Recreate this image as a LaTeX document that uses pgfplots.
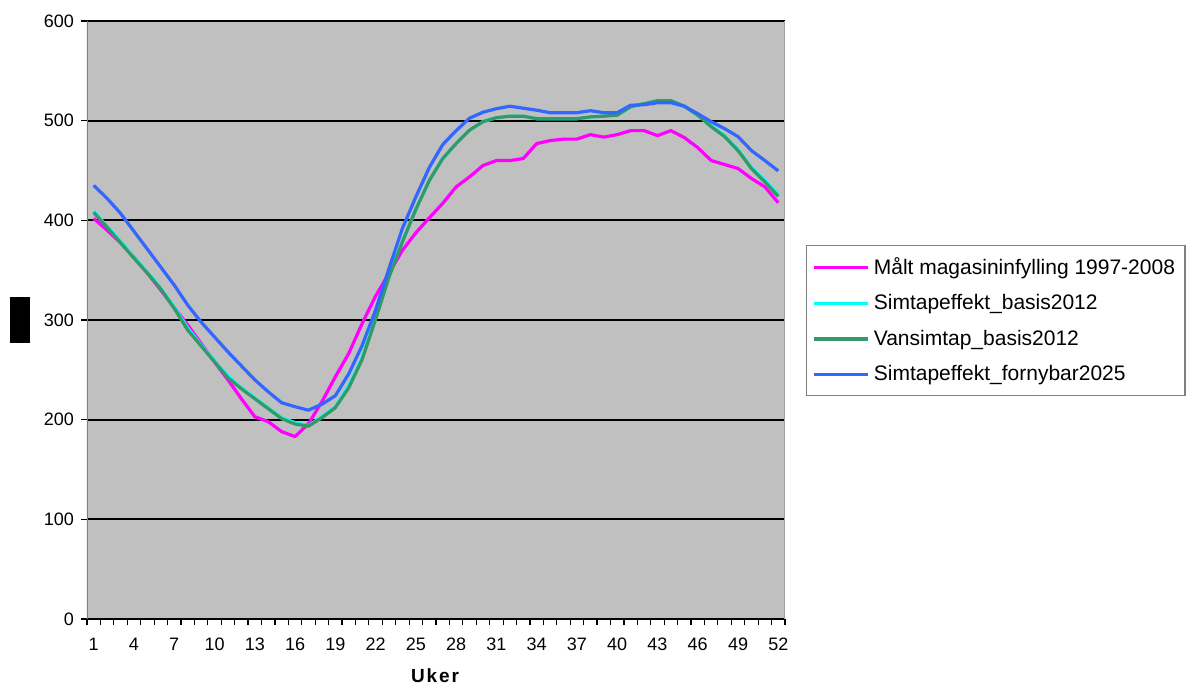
\documentclass[border=0pt]{standalone}
\usepackage{pgfplots}
\pgfplotsset{compat=1.18}
\usepackage{pgfplotstable}
\usepackage{fontspec}
\setmainfont{Liberation Sans}
\definecolor{cMag}{HTML}{FF00FF}
\definecolor{cCya}{HTML}{00FFFF}
\definecolor{cGre}{HTML}{339966}
\definecolor{cBlu}{HTML}{3366FF}
\definecolor{cBg}{HTML}{C0C0C0}
\definecolor{cAx}{HTML}{808080}
\definecolor{cAx2}{HTML}{A0A0A0}
\pgfplotstableread{
w mag cya gre blu
1 402 409 408 435
2 390 394 393 422
3 377.5 379 377.5 407
4 363 363 362 389
5 347 348 347 371
6 330 332 331 353
7 312.6 313 311.6 335
8 295 292 290 315
9 276.5 275 274 298
10 258 259 258 283
11 240 244 242 268
12 221 232 231 254
13 203 222 221 240
14 198 212 211 228
15 188 202 201 217
16 183 197 195.6 213
17 196 194 193.5 209.5
18 218 203 202 215.5
19 243 213 212 224
20 266.5 234 232 246
21 296.6 262 260.5 274.5
22 324 302 300.6 310
23 347 344 343 351.7
24 370 379 378.5 392
25 387.5 411 411 423.6
26 402.5 440 440 453
27 417 462 462 476
28 433.6 477 477 490
29 443.6 490.5 490.5 502.5
30 455 499 499 508.5
31 460 503 503 512
32 460 504.5 504.5 514.5
33 462 504.5 504.5 512.5
34 477 502 502 510.5
35 480 502 502 508
36 481.5 502 502 508
37 481.5 502 502 508
38 486 503.8 503.8 510
39 483.5 504.5 504.5 508
40 486 505.5 505.5 508
41 490 514 514 515.5
42 490 517 517 516
43 485 520 520 518
44 490 520 520 518
45 483 514.5 514.5 514.5
46 473 505.5 505.5 507
47 460 495 494 499
48 456 485 484 492
49 452 471 470 484
50 442 453 452 470
51 433.6 440 438.6 460
52 417.6 426 424 449.6
}\datatable
\begin{document}
\begin{tikzpicture}
\useasboundingbox (-43.5pt,-33pt) rectangle (550pt,309.5pt);
\begin{axis}[
  at={(0,0)}, anchor=south west,
  scale only axis, width=349pt, height=299pt,
  xmin=0.5, xmax=52.5, ymin=0, ymax=600,
  axis background/.style={fill=cBg},
  axis line style={draw=none},
  xtick pos=lower, ytick pos=left,
  ytick={0,100,...,600},
  xtick={0.5,1.5,...,52.5},
  xticklabels={1,,,4,,,7,,,10,,,13,,,16,,,19,,,22,,,25,,,28,,,31,,,34,,,37,,,40,,,43,,,46,,,49,,,52,},
  xticklabel style={xshift=3.356pt, yshift=-3pt, font=\fontsize{9}{10}\selectfont},
  yticklabel style={font=\fontsize{9}{10}\selectfont},
  /pgf/number format/assume math mode=true,
  tick align=outside, major tick length=3pt,
  tick style={black, line width=0.6pt},
  ymajorgrids, grid style={black, line width=1pt},
  xlabel={\textbf{\addfontfeature{LetterSpace=10}Uker}},
  xlabel style={font=\fontsize{9.5}{11}\selectfont, yshift=-2pt},
  legend style={at={(1.030,0.6254)}, anchor=north west, draw=cAx, line width=0.7pt, fill=white,
    font=\fontsize{10.5}{12}\selectfont, legend cell align=left, row sep=4.5pt,
    inner xsep=3pt, inner ysep=4pt},
  legend image code/.code={\draw[#1, line width=1.6pt] (0pt,0pt) -- (27pt,0pt);},
  every axis plot/.append style={line width=1.6pt, mark=none, line join=round},
]
\addplot[cMag] table[x=w, y=mag] {\datatable};
\addlegendentry{Målt magasininfylling 1997-2008}
\addplot[cCya] table[x=w, y=cya] {\datatable};
\addlegendentry{Simtapeffekt\_basis2012}
\addplot[cGre] table[x=w, y=gre] {\datatable};
\addlegendentry{Vansimtap\_basis2012}
\addplot[cBlu] table[x=w, y=blu] {\datatable};
\addlegendentry{Simtapeffekt\_fornybar2025}
\draw[cAx, line width=1pt] (rel axis cs:0,0) -- (rel axis cs:0,1);
\draw[cAx2, line width=0.75pt] (rel axis cs:1,0) -- (rel axis cs:1,1);
\end{axis}
\fill[black] (-38.5pt,138pt) rectangle (-28.5pt,161pt);
\end{tikzpicture}
\end{document}
